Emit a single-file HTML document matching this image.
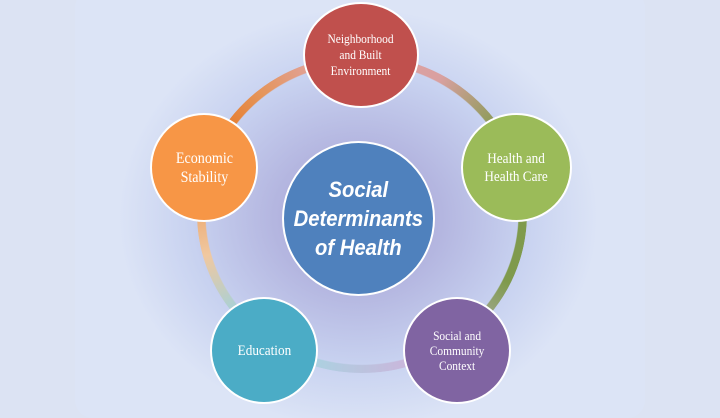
<!DOCTYPE html>
<html><head><style>
body{margin:0;width:720px;height:408px;overflow:hidden;background:#dce3f3;position:relative;font-family:"Liberation Serif",serif}
.panel{position:absolute;left:75px;top:-10px;width:570px;height:428px;border-radius:18px;background:radial-gradient(ellipse 240px 210px at 283px 228px,#a69fd0 0%,#b4b6e0 35%,#c8d2f0 70%,#dce4f6 100%)}
.ring{position:absolute;left:197px;top:55px;width:330px;height:318px;border-radius:50%;
background:conic-gradient(from 0deg,#e0a4a4 0deg,#d9a0a0 30deg,#7f9a4c 60deg,#7f9a4c 115deg,#c8b8dc 150deg,#c8b8dc 165deg,#a6d6e2 205deg,#9ed2de 230deg,#f0c8a0 255deg,#e67a28 300deg,#e5955a 320deg,#e0a4a4 345deg);
-webkit-mask:radial-gradient(closest-side,transparent calc(100% - 9px),#000 calc(100% - 8px));mask:radial-gradient(closest-side,transparent calc(100% - 9px),#000 calc(100% - 8px))}
.c{position:absolute;border-radius:50%;border:2px solid #fff;box-sizing:border-box;display:flex;align-items:center;justify-content:center;text-align:center;color:#fff;font-size:13px;line-height:16px}
.c span{display:inline-block;transform:scaleX(0.88)}
.m{font-family:"Liberation Sans",sans-serif;font-style:italic;font-weight:bold;font-size:22px;line-height:29px}
</style></head><body>
<div class="panel"></div>
<div class="ring"></div>
<div class="c" style="left:303px;top:2px;width:116px;height:106px;background:#c0504d;font-size:13px;line-height:16px"><span>Neighborhood<br>and Built<br>Environment</span></div>
<div class="c" style="left:461px;top:113px;width:111px;height:109px;background:#9bbb59;font-size:15px;line-height:18px"><span>Health and<br>Health Care</span></div>
<div class="c" style="left:150px;top:113px;width:108px;height:109px;background:#f79646;font-size:16px;line-height:19px"><span>Economic<br>Stability</span></div>
<div class="c" style="left:210px;top:297px;width:108px;height:107px;background:#4bacc6;font-size:15px"><span>Education</span></div>
<div class="c" style="left:403px;top:297px;width:108px;height:107px;background:#8064a2;font-size:13px;line-height:15px"><span>Social and<br>Community<br>Context</span></div>
<div class="c m" style="left:282px;top:141px;width:153px;height:155px;background:#4f81bd"><span style="transform:scaleX(0.92)">Social<br>Determinants<br>of Health</span></div>
</body></html>
